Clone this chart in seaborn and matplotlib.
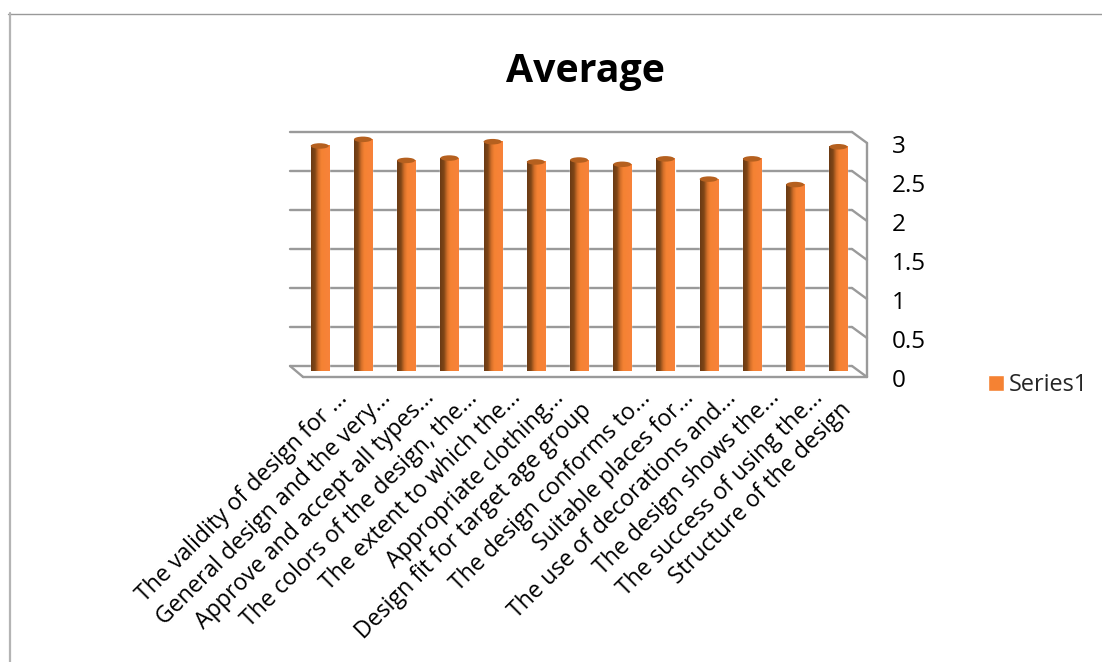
import numpy as np
import pandas as pd
import matplotlib
matplotlib.use("Agg")
import matplotlib.pyplot as plt
import seaborn as sns
from matplotlib.colors import LinearSegmentedColormap
from matplotlib.lines import Line2D
from matplotlib.patches import Ellipse
from matplotlib.transforms import ScaledTranslation

# DATA
questions = [
    "The validity of design for ...",
    "General design and the very...",
    "Approve and accept all types...",
    "The colors of the design, the...",
    "The extent to which the...",
    "Appropriate clothing...",
    "Design fit for target age group",
    "The design conforms to...",
    "Suitable places for...",
    "The use of decorations and...",
    "The design shows the...",
    "The success of using the...",
    "Structure of the design",
]
average = [2.885, 2.97, 2.70, 2.73, 2.94, 2.68, 2.705, 2.65, 2.72, 2.46, 2.72, 2.39, 2.875]
y_ticks = [0, 0.5, 1, 1.5, 2, 2.5, 3]
y_labels = ["0", "0.5", "1", "1.5", "2", "2.5", "3"]

W, H = 1102, 662
FONT = "Open Sans"

sns.set_theme(style="white")
plt.rcParams["font.family"] = [FONT, "DejaVu Sans"]

fig = plt.figure(figsize=(W / 100, H / 100), dpi=100)
# axes box is the plane the cylinders stand on, in pixels of the picture
left, right, bottom, top = 298.1, 860.0, 371.0, 137.0
ax = fig.add_axes([left / W, 1 - bottom / H, (right - left) / W, (bottom - top) / H])
ax.patch.set_alpha(0)

df = pd.DataFrame({"question": questions, "average": average})
sns.barplot(data=df, x="question", y="average", color="#F58233", width=0.417,
            saturation=1, label="Series1", ax=ax, zorder=3)
ax.set_xlim(-0.5, 12.5)
ax.set_ylim(0, 3)
ax.set_xlabel("")
ax.set_ylabel("")
sns.despine(ax=ax, left=True, bottom=True)


def shifted(dx, dy):
    # dx, dy in picture pixels, dy upwards
    return ax.transData + ScaledTranslation(dx / 100, dy / 100, fig.dpi_scale_trans)


# WALLS
wall = "#9a9a9a"
wall_lw = 1.7
back = shifted(-8, 5)
for v in y_ticks:
    # back wall line, then the short return to the front edge
    ax.plot([-0.5, 12.5], [v, v], color=wall, lw=wall_lw, transform=back, zorder=1, clip_on=False)
    ax.plot([12.5, 12.5 + 15 / 43.2], [v, v - 11 / 78], color=wall, lw=wall_lw,
            transform=back, zorder=1, clip_on=False)
ax.plot([-0.5, -0.5 + 13 / 43.2], [0, -11 / 78], color=wall, lw=wall_lw, transform=back, zorder=1, clip_on=False)
ax.plot([-0.5 + 13 / 43.2, 12.5 + 15 / 43.2], [-11 / 78, -11 / 78], color=wall, lw=wall_lw,
        transform=back, zorder=1, clip_on=False)
ax.plot([12.5 + 15 / 43.2] * 2, [-11 / 78, 3 - 11 / 78], color=wall, lw=wall_lw,
        transform=back, zorder=1, clip_on=False)

# CYLINDER SHADING over the seaborn bars
cyl = LinearSegmentedColormap.from_list("cyl", [
    (0.0, "#6A3A14"), (0.2, "#7F4617"), (0.4, "#D8722A"),
    (0.55, "#F58233"), (1.0, "#F8823A")])
grad = np.linspace(0, 1, 64).reshape(1, -1)
cap_h = 5.5 / 78
for bar in list(ax.patches):
    x0, w, h = bar.get_x(), bar.get_width(), bar.get_height()
    ax.imshow(grad, extent=[x0, x0 + w, 0, h], cmap=cyl, aspect="auto", zorder=4, origin="lower")
    foot = Ellipse((x0 + w / 2, 0), w, cap_h, facecolor="none", edgecolor="none", transform=ax.transData)
    ax.add_patch(foot)
    foot_img = ax.imshow(grad, extent=[x0, x0 + w, -cap_h, cap_h], cmap=cyl, aspect="auto", zorder=4, origin="lower")
    foot_img.set_clip_path(foot)
    ax.add_patch(Ellipse((x0 + w / 2, h), w, cap_h, facecolor="#B5601F", edgecolor="none",
                         zorder=5, clip_on=False))
ax.set_xlim(-0.5, 12.5)
ax.set_ylim(0, 3)

# TICKS
ax.set_xticks(range(len(questions)))
ax.set_xticklabels(questions, rotation=45, ha="right", va="center", rotation_mode="anchor",
                   fontsize=16.7, color="black")
ax.tick_params(axis="x", length=0, pad=0)
for lab in ax.get_xticklabels():
    # labels that were not cut short sit further back along the slant
    if lab.get_text().endswith("..."):
        nudge = ScaledTranslation(0.245, -0.235, fig.dpi_scale_trans)
    else:
        nudge = ScaledTranslation(0.09, -0.355, fig.dpi_scale_trans)
    lab.set_transform(lab.get_transform() + nudge)

ax.yaxis.tick_right()
ax.set_yticks(y_ticks)
ax.set_yticklabels(y_labels, fontsize=17.5, color="black", ha="left")
ax.tick_params(axis="y", length=0, pad=0)
for lab in ax.get_yticklabels():
    lab.set_transform(lab.get_transform() + ScaledTranslation(0.32, -0.07, fig.dpi_scale_trans))

# TITLE, LEGEND, OUTER FRAME
fig.text(585 / W, 1 - 71.5 / H, "Average", fontsize=28.3, fontweight="bold", ha="center", va="center", color="black")

handles, labels = ax.get_legend_handles_labels()
ax.legend(handles, labels, loc="center left", bbox_to_anchor=(988 / W, 1 - 385 / H),
          bbox_transform=fig.transFigure, frameon=False, fontsize=16.9,
          handlelength=0.7, handleheight=0.7, handletextpad=0.2, borderpad=0, borderaxespad=0)

fig.add_artist(Line2D([8 / W, 1], [1 - 13.5 / H, 1 - 13.5 / H], color="#999999", lw=1.0, transform=fig.transFigure))
fig.add_artist(Line2D([10 / W, 10 / W], [1 - 13 / H, 0], color="#B4B4B4", lw=1.6, transform=fig.transFigure))

fig.savefig("out.png", dpi=100, facecolor="white")
